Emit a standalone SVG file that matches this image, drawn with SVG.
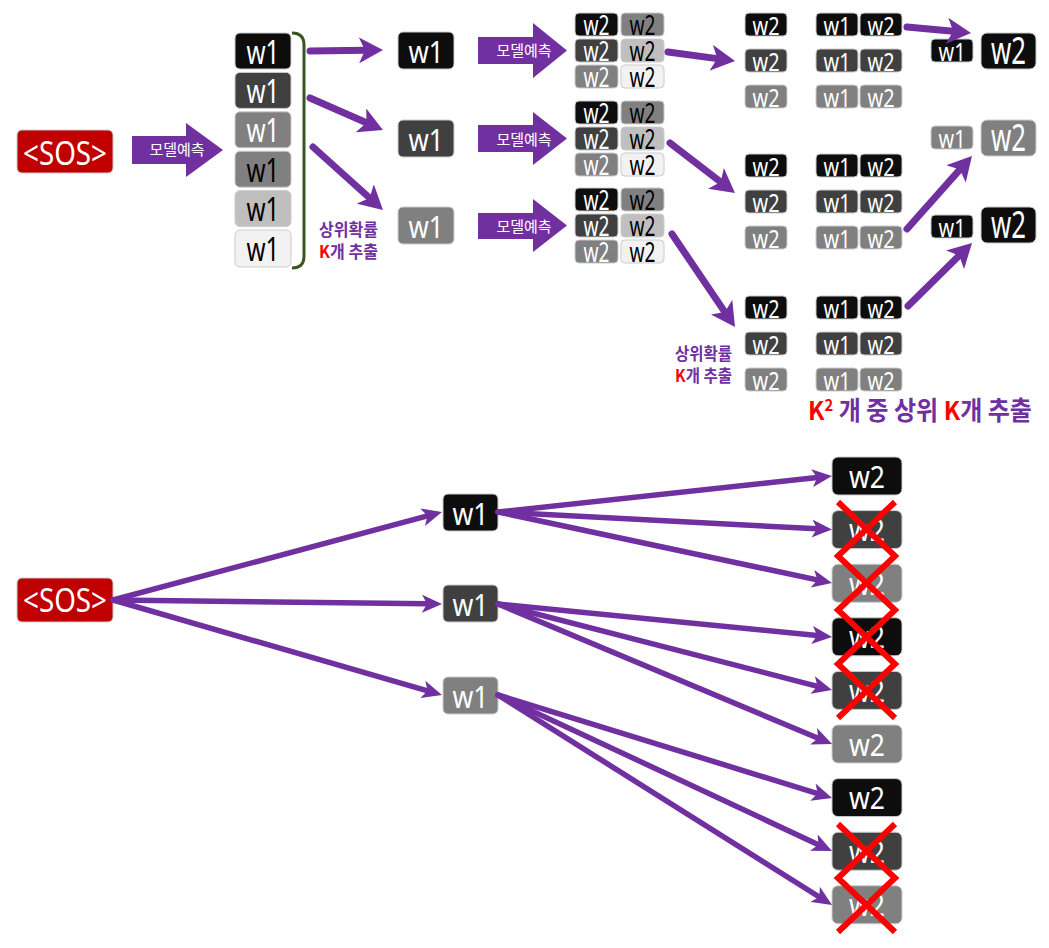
<svg xmlns="http://www.w3.org/2000/svg" width="1049" height="948" viewBox="0 0 1049 948">
<style>
.n rect{stroke:#cccccc;stroke-width:1}
.c0{fill:#0D0D0D}.c1{fill:#404040}.c2{fill:#808080}.c3{fill:#BFBFBF}.c4{fill:#F2F2F2}.red{fill:#C00000;stroke:#d04040}
.t{font-family:"Noto Sans","DejaVu Sans",sans-serif;text-anchor:middle}
.w{fill:#fff}.k{fill:#000}
.kr{font-family:"Noto Sans CJK KR",sans-serif;text-anchor:middle}
.lbl{fill:#7030A0;font-weight:bold}
.conn path{fill:none;stroke:#7030A0;stroke-linecap:round}
.thick{stroke-width:7}.thin{stroke-width:5.5}
.blk{fill:#7030A0}
.x{fill:none;stroke:#FF0000;stroke-width:6}
</style>
<defs>
<marker id="ah" viewBox="0 0 24 26" refX="6" refY="13" markerWidth="24" markerHeight="26" markerUnits="userSpaceOnUse" orient="auto"><path d="M0,0 L24,13 L0,26 L6,13 z" fill="#7030A0"/></marker>
<marker id="as" viewBox="0 0 20 18" refX="5" refY="9" markerWidth="20" markerHeight="18" markerUnits="userSpaceOnUse" orient="auto"><path d="M0,0 L20,9 L0,18 L5,9 z" fill="#7030A0"/></marker>
</defs>
<rect width="1049" height="948" fill="#fff"/>

<!-- TOP SECTION -->
<g id="sos-top" class="n"><rect class="red" x="17" y="130" width="96" height="43" rx="5"/><text class="t w" x="65" y="165" font-size="32" textLength="84" lengthAdjust="spacingAndGlyphs">&lt;SOS&gt;</text></g>

<g id="pred-1"><polygon class="blk" points="132,136 186,136 186,123 223,150 186,177 186,164 132,164"/><text class="kr" x="177" y="155" font-size="15" fill="#fff">모델예측</text></g>

<g id="stack" class="n">
<rect class="c0" x="235" y="33" width="56" height="36" rx="5"/><text class="t w" x="263" y="63.5" font-size="32" textLength="33" lengthAdjust="spacingAndGlyphs">w1</text>
<rect class="c1" x="235" y="72.4" width="56" height="36" rx="5"/><text class="t w" x="263" y="102.9" font-size="32" textLength="33" lengthAdjust="spacingAndGlyphs">w1</text>
<rect class="c2" x="235" y="111.8" width="56" height="36" rx="5"/><text class="t w" x="263" y="142.3" font-size="32" textLength="33" lengthAdjust="spacingAndGlyphs">w1</text>
<rect class="c2" x="235" y="151.2" width="56" height="36" rx="5"/><text class="t k" x="263" y="181.7" font-size="32" textLength="33" lengthAdjust="spacingAndGlyphs">w1</text>
<rect class="c3" x="235" y="190.6" width="56" height="36" rx="5"/><text class="t k" x="263" y="221.1" font-size="32" textLength="33" lengthAdjust="spacingAndGlyphs">w1</text>
<rect class="c4" x="235" y="230" width="56" height="37" rx="5"/><text class="t k" x="263" y="261" font-size="32" textLength="33" lengthAdjust="spacingAndGlyphs">w1</text>
</g>
<path id="brace" d="M292,33 Q304,33 304,45 L304,256 Q304,268 292,268" fill="none" stroke="#375623" stroke-width="3"/>

<g id="label-topk-1"><text class="kr lbl" x="348.5" y="236" font-size="17" textLength="59" lengthAdjust="spacingAndGlyphs">상위확률</text><text class="kr lbl" x="348.5" y="258" font-size="17" textLength="59" lengthAdjust="spacingAndGlyphs"><tspan fill="#FF0000">K</tspan>개 추출</text></g>

<g id="w1-a" class="n"><rect class="c0" x="398" y="32" width="56" height="37" rx="5"/><text class="t w" x="426" y="63" font-size="30" textLength="35" lengthAdjust="spacingAndGlyphs">w1</text></g>
<g id="w1-b" class="n"><rect class="c1" x="398" y="120" width="56" height="37" rx="5"/><text class="t w" x="426" y="151" font-size="30" textLength="35" lengthAdjust="spacingAndGlyphs">w1</text></g>
<g id="w1-c" class="n"><rect class="c2" x="398" y="207" width="56" height="37" rx="5"/><text class="t w" x="426" y="238" font-size="30" textLength="35" lengthAdjust="spacingAndGlyphs">w1</text></g>

<g id="pred-2"><polygon class="blk" points="478,37 533,37 533,23 567,50.5 533,78 533,64 478,64"/><text class="kr" x="524" y="56" font-size="15" fill="#fff">모델예측</text></g>
<g id="pred-3"><polygon class="blk" points="478,125 533,125 533,112 567,138.5 533,165 533,152 478,152"/><text class="kr" x="524" y="145" font-size="15" fill="#fff">모델예측</text></g>
<g id="pred-4"><polygon class="blk" points="478,213 533,213 533,199 567,225.5 533,252 533,239 478,239"/><text class="kr" x="524" y="232" font-size="15" fill="#fff">모델예측</text></g>

<g id="grid-1" class="n">
<rect class="c0" x="575" y="13" width="43" height="23" rx="4"/><text class="t w" x="596.5" y="34.5" font-size="27" textLength="26" lengthAdjust="spacingAndGlyphs">w2</text>
<rect class="c2" x="621" y="13" width="43" height="23" rx="4"/><text class="t k" x="642.5" y="34.5" font-size="27" textLength="26" lengthAdjust="spacingAndGlyphs">w2</text>
<rect class="c1" x="575" y="39" width="43" height="23" rx="4"/><text class="t w" x="596.5" y="60.5" font-size="27" textLength="26" lengthAdjust="spacingAndGlyphs">w2</text>
<rect class="c3" x="621" y="39" width="43" height="23" rx="4"/><text class="t k" x="642.5" y="60.5" font-size="27" textLength="26" lengthAdjust="spacingAndGlyphs">w2</text>
<rect class="c2" x="575" y="65" width="43" height="23" rx="4"/><text class="t w" x="596.5" y="86.5" font-size="27" textLength="26" lengthAdjust="spacingAndGlyphs">w2</text>
<rect class="c4" x="621" y="65" width="43" height="23" rx="4"/><text class="t k" x="642.5" y="86.5" font-size="27" textLength="26" lengthAdjust="spacingAndGlyphs">w2</text>
</g>
<g id="grid-2" class="n">
<rect class="c0" x="575" y="101" width="43" height="23" rx="4"/><text class="t w" x="596.5" y="122.5" font-size="27" textLength="26" lengthAdjust="spacingAndGlyphs">w2</text>
<rect class="c2" x="621" y="101" width="43" height="23" rx="4"/><text class="t k" x="642.5" y="122.5" font-size="27" textLength="26" lengthAdjust="spacingAndGlyphs">w2</text>
<rect class="c1" x="575" y="127" width="43" height="23" rx="4"/><text class="t w" x="596.5" y="148.5" font-size="27" textLength="26" lengthAdjust="spacingAndGlyphs">w2</text>
<rect class="c3" x="621" y="127" width="43" height="23" rx="4"/><text class="t k" x="642.5" y="148.5" font-size="27" textLength="26" lengthAdjust="spacingAndGlyphs">w2</text>
<rect class="c2" x="575" y="153" width="43" height="23" rx="4"/><text class="t w" x="596.5" y="174.5" font-size="27" textLength="26" lengthAdjust="spacingAndGlyphs">w2</text>
<rect class="c4" x="621" y="153" width="43" height="23" rx="4"/><text class="t k" x="642.5" y="174.5" font-size="27" textLength="26" lengthAdjust="spacingAndGlyphs">w2</text>
</g>
<g id="grid-3" class="n">
<rect class="c0" x="575" y="188" width="43" height="23" rx="4"/><text class="t w" x="596.5" y="209.5" font-size="27" textLength="26" lengthAdjust="spacingAndGlyphs">w2</text>
<rect class="c2" x="621" y="188" width="43" height="23" rx="4"/><text class="t k" x="642.5" y="209.5" font-size="27" textLength="26" lengthAdjust="spacingAndGlyphs">w2</text>
<rect class="c1" x="575" y="214" width="43" height="23" rx="4"/><text class="t w" x="596.5" y="235.5" font-size="27" textLength="26" lengthAdjust="spacingAndGlyphs">w2</text>
<rect class="c3" x="621" y="214" width="43" height="23" rx="4"/><text class="t k" x="642.5" y="235.5" font-size="27" textLength="26" lengthAdjust="spacingAndGlyphs">w2</text>
<rect class="c2" x="575" y="240" width="43" height="23" rx="4"/><text class="t w" x="596.5" y="261.5" font-size="27" textLength="26" lengthAdjust="spacingAndGlyphs">w2</text>
<rect class="c4" x="621" y="240" width="43" height="23" rx="4"/><text class="t k" x="642.5" y="261.5" font-size="27" textLength="26" lengthAdjust="spacingAndGlyphs">w2</text>
</g>

<!-- right columns: singles and pairs -->
<g id="cand-1" class="n">
<rect class="c0" x="745" y="13" width="42" height="23" rx="4"/><text class="t w" x="766" y="34.5" font-size="26" textLength="27" lengthAdjust="spacingAndGlyphs">w2</text>
<rect class="c1" x="745" y="49" width="42" height="23" rx="4"/><text class="t w" x="766" y="70.5" font-size="26" textLength="27" lengthAdjust="spacingAndGlyphs">w2</text>
<rect class="c2" x="745" y="85" width="42" height="23" rx="4"/><text class="t w" x="766" y="106.5" font-size="26" textLength="27" lengthAdjust="spacingAndGlyphs">w2</text>
</g>
<g id="cand-2" class="n">
<rect class="c0" x="745" y="154" width="42" height="23" rx="4"/><text class="t w" x="766" y="175.5" font-size="26" textLength="27" lengthAdjust="spacingAndGlyphs">w2</text>
<rect class="c1" x="745" y="190" width="42" height="23" rx="4"/><text class="t w" x="766" y="211.5" font-size="26" textLength="27" lengthAdjust="spacingAndGlyphs">w2</text>
<rect class="c2" x="745" y="226" width="42" height="23" rx="4"/><text class="t w" x="766" y="247.5" font-size="26" textLength="27" lengthAdjust="spacingAndGlyphs">w2</text>
</g>
<g id="cand-3" class="n">
<rect class="c0" x="745" y="296" width="42" height="23" rx="4"/><text class="t w" x="766" y="317.5" font-size="26" textLength="27" lengthAdjust="spacingAndGlyphs">w2</text>
<rect class="c1" x="745" y="332" width="42" height="23" rx="4"/><text class="t w" x="766" y="353.5" font-size="26" textLength="27" lengthAdjust="spacingAndGlyphs">w2</text>
<rect class="c2" x="745" y="368" width="42" height="23" rx="4"/><text class="t w" x="766" y="389.5" font-size="26" textLength="27" lengthAdjust="spacingAndGlyphs">w2</text>
</g>

<g id="pairs-1" class="n">
<rect class="c0" x="816" y="13" width="42" height="23" rx="4"/><text class="t w" x="837" y="34.5" font-size="26" textLength="27" lengthAdjust="spacingAndGlyphs">w1</text>
<rect class="c0" x="860" y="13" width="42" height="23" rx="4"/><text class="t w" x="881" y="34.5" font-size="26" textLength="27" lengthAdjust="spacingAndGlyphs">w2</text>
<rect class="c1" x="816" y="49" width="42" height="23" rx="4"/><text class="t w" x="837" y="70.5" font-size="26" textLength="27" lengthAdjust="spacingAndGlyphs">w1</text>
<rect class="c1" x="860" y="49" width="42" height="23" rx="4"/><text class="t w" x="881" y="70.5" font-size="26" textLength="27" lengthAdjust="spacingAndGlyphs">w2</text>
<rect class="c2" x="816" y="85" width="42" height="23" rx="4"/><text class="t w" x="837" y="106.5" font-size="26" textLength="27" lengthAdjust="spacingAndGlyphs">w1</text>
<rect class="c2" x="860" y="85" width="42" height="23" rx="4"/><text class="t w" x="881" y="106.5" font-size="26" textLength="27" lengthAdjust="spacingAndGlyphs">w2</text>
</g>
<g id="pairs-2" class="n">
<rect class="c0" x="816" y="154" width="42" height="23" rx="4"/><text class="t w" x="837" y="175.5" font-size="26" textLength="27" lengthAdjust="spacingAndGlyphs">w1</text>
<rect class="c0" x="860" y="154" width="42" height="23" rx="4"/><text class="t w" x="881" y="175.5" font-size="26" textLength="27" lengthAdjust="spacingAndGlyphs">w2</text>
<rect class="c1" x="816" y="190" width="42" height="23" rx="4"/><text class="t w" x="837" y="211.5" font-size="26" textLength="27" lengthAdjust="spacingAndGlyphs">w1</text>
<rect class="c1" x="860" y="190" width="42" height="23" rx="4"/><text class="t w" x="881" y="211.5" font-size="26" textLength="27" lengthAdjust="spacingAndGlyphs">w2</text>
<rect class="c2" x="816" y="226" width="42" height="23" rx="4"/><text class="t w" x="837" y="247.5" font-size="26" textLength="27" lengthAdjust="spacingAndGlyphs">w1</text>
<rect class="c2" x="860" y="226" width="42" height="23" rx="4"/><text class="t w" x="881" y="247.5" font-size="26" textLength="27" lengthAdjust="spacingAndGlyphs">w2</text>
</g>
<g id="pairs-3" class="n">
<rect class="c0" x="816" y="296" width="42" height="23" rx="4"/><text class="t w" x="837" y="317.5" font-size="26" textLength="27" lengthAdjust="spacingAndGlyphs">w1</text>
<rect class="c0" x="860" y="296" width="42" height="23" rx="4"/><text class="t w" x="881" y="317.5" font-size="26" textLength="27" lengthAdjust="spacingAndGlyphs">w2</text>
<rect class="c1" x="816" y="332" width="42" height="23" rx="4"/><text class="t w" x="837" y="353.5" font-size="26" textLength="27" lengthAdjust="spacingAndGlyphs">w1</text>
<rect class="c1" x="860" y="332" width="42" height="23" rx="4"/><text class="t w" x="881" y="353.5" font-size="26" textLength="27" lengthAdjust="spacingAndGlyphs">w2</text>
<rect class="c2" x="816" y="368" width="42" height="23" rx="4"/><text class="t w" x="837" y="389.5" font-size="26" textLength="27" lengthAdjust="spacingAndGlyphs">w1</text>
<rect class="c2" x="860" y="368" width="42" height="23" rx="4"/><text class="t w" x="881" y="389.5" font-size="26" textLength="27" lengthAdjust="spacingAndGlyphs">w2</text>
</g>

<g id="result-1" class="n">
<rect class="c0" x="931" y="39" width="42" height="23" rx="4"/><text class="t w" x="952" y="60.5" font-size="26" textLength="27" lengthAdjust="spacingAndGlyphs">w1</text>
<rect class="c0" x="981" y="33" width="55" height="36" rx="6"/><text class="t w" x="1008.5" y="64" font-size="38" textLength="35" lengthAdjust="spacingAndGlyphs">w2</text>
</g>
<g id="result-2" class="n">
<rect class="c2" x="931" y="126" width="42" height="23" rx="4"/><text class="t w" x="952" y="147.5" font-size="26" textLength="27" lengthAdjust="spacingAndGlyphs">w1</text>
<rect class="c2" x="981" y="120" width="55" height="36" rx="6"/><text class="t w" x="1008.5" y="151" font-size="38" textLength="35" lengthAdjust="spacingAndGlyphs">w2</text>
</g>
<g id="result-3" class="n">
<rect class="c0" x="931" y="215" width="42" height="23" rx="4"/><text class="t w" x="952" y="236.5" font-size="26" textLength="27" lengthAdjust="spacingAndGlyphs">w1</text>
<rect class="c0" x="981" y="207" width="55" height="36" rx="6"/><text class="t w" x="1008.5" y="238" font-size="38" textLength="35" lengthAdjust="spacingAndGlyphs">w2</text>
</g>

<g id="label-topk-2"><text class="kr lbl" x="703.5" y="360" font-size="17" textLength="57" lengthAdjust="spacingAndGlyphs">상위확률</text><text class="kr lbl" x="703.5" y="382" font-size="17" textLength="57" lengthAdjust="spacingAndGlyphs"><tspan fill="#FF0000">K</tspan>개 추출</text></g>

<g id="label-k2"><text class="kr lbl" x="920" y="420" font-size="26" textLength="224" lengthAdjust="spacingAndGlyphs"><tspan fill="#FF0000">K</tspan><tspan fill="#FF0000" font-size="16" dy="-9">2</tspan><tspan dy="9"> 개 중 상위 </tspan><tspan fill="#FF0000">K</tspan>개 추출</text></g>

<!-- BOTTOM SECTION -->
<g id="sos-bottom" class="n"><rect class="red" x="17" y="578" width="96" height="44" rx="5"/><text class="t w" x="65" y="612" font-size="33" textLength="84" lengthAdjust="spacingAndGlyphs">&lt;SOS&gt;</text></g>

<g id="b-w1-a" class="n"><rect class="c0" x="443" y="494" width="55" height="37" rx="5"/><text class="t w" x="470.5" y="525" font-size="30" textLength="36" lengthAdjust="spacingAndGlyphs">w1</text></g>
<g id="b-w1-b" class="n"><rect class="c1" x="443" y="585" width="55" height="37" rx="5"/><text class="t w" x="470.5" y="616" font-size="30" textLength="36" lengthAdjust="spacingAndGlyphs">w1</text></g>
<g id="b-w1-c" class="n"><rect class="c2" x="443" y="677" width="55" height="37" rx="5"/><text class="t w" x="470.5" y="708" font-size="30" textLength="36" lengthAdjust="spacingAndGlyphs">w1</text></g>

<g id="b-w2-1" class="n"><rect class="c0" x="832" y="457" width="70" height="38" rx="6"/><text class="t w" x="867" y="487.5" font-size="30" textLength="36" lengthAdjust="spacingAndGlyphs">w2</text></g>
<g id="b-w2-2" class="n"><rect class="c1" x="832" y="510.6" width="70" height="38" rx="6"/><text class="t w" x="867" y="541.1" font-size="30" textLength="36" lengthAdjust="spacingAndGlyphs">w2</text></g>
<g id="b-w2-3" class="n"><rect class="c2" x="832" y="564.2" width="70" height="38" rx="6"/><text class="t w" x="867" y="594.7" font-size="30" textLength="36" lengthAdjust="spacingAndGlyphs">w2</text></g>
<g id="b-w2-4" class="n"><rect class="c0" x="832" y="617.8" width="70" height="38" rx="6"/><text class="t w" x="867" y="648.3" font-size="30" textLength="36" lengthAdjust="spacingAndGlyphs">w2</text></g>
<g id="b-w2-5" class="n"><rect class="c1" x="832" y="671.4" width="70" height="38" rx="6"/><text class="t w" x="867" y="701.9" font-size="30" textLength="36" lengthAdjust="spacingAndGlyphs">w2</text></g>
<g id="b-w2-6" class="n"><rect class="c2" x="832" y="725" width="70" height="38" rx="6"/><text class="t w" x="867" y="755.5" font-size="30" textLength="36" lengthAdjust="spacingAndGlyphs">w2</text></g>
<g id="b-w2-7" class="n"><rect class="c0" x="832" y="778.6" width="70" height="38" rx="6"/><text class="t w" x="867" y="809.1" font-size="30" textLength="36" lengthAdjust="spacingAndGlyphs">w2</text></g>
<g id="b-w2-8" class="n"><rect class="c1" x="832" y="832.2" width="70" height="38" rx="6"/><text class="t w" x="867" y="862.7" font-size="30" textLength="36" lengthAdjust="spacingAndGlyphs">w2</text></g>
<g id="b-w2-9" class="n"><rect class="c2" x="832" y="885.8" width="70" height="38" rx="6"/><text class="t w" x="867" y="916.3" font-size="30" textLength="36" lengthAdjust="spacingAndGlyphs">w2</text></g>

<g id="connectors" class="conn">
<path class="thick" d="M310,51 L365,50.2" marker-end="url(#ah)"/>
<path class="thick" d="M310,98 L366.5,122.8" marker-end="url(#ah)"/>
<path class="thick" d="M313,147 L369.6,198" marker-end="url(#ah)"/>
<path class="thick" d="M668,52 L717.2,58.6" marker-end="url(#ah)"/>
<path class="thick" d="M670,143 L720.7,182" marker-end="url(#ah)"/>
<path class="thick" d="M672,234 L724.9,312.1" marker-end="url(#ah)"/>
<path class="thick" d="M907,27 L953.1,31.3" marker-end="url(#ah)"/>
<path class="thick" d="M907,229 L960,169.4" marker-end="url(#ah)"/>
<path class="thick" d="M908,306 L959.2,255.6" marker-end="url(#ah)"/>

<path class="thin" d="M113,600 L427.5,515.9" marker-end="url(#as)"/>
<path class="thin" d="M113,600 L427,603.8" marker-end="url(#as)"/>
<path class="thin" d="M113,600 L427.6,690.8" marker-end="url(#as)"/>
<path class="thin" d="M498,512 L817.1,477.6" marker-end="url(#as)"/>
<path class="thin" d="M498,512 L817,528.8" marker-end="url(#as)"/>
<path class="thin" d="M498,512 L817.3,579.9" marker-end="url(#as)"/>
<path class="thin" d="M498,604 L817.1,635.5" marker-end="url(#as)"/>
<path class="thin" d="M498,604 L817.5,686.3" marker-end="url(#as)"/>
<path class="thin" d="M498,604 L818.2,738.2" marker-end="url(#as)"/>
<path class="thin" d="M498,695 L817.7,793.6" marker-end="url(#as)"/>
<path class="thin" d="M498,695 L818.4,844.7" marker-end="url(#as)"/>
<path class="thin" d="M498,695 L819.3,897" marker-end="url(#as)"/>
</g>

<g id="cross-marks">
<path class="x" d="M838,502 L895,556 L838,610 L895,664 L838,718"/>
<path class="x" d="M895,502 L838,556 L895,610 L838,664 L895,718"/>
<path class="x" d="M838,824 L895,878 L838,932"/>
<path class="x" d="M895,824 L838,878 L895,932"/>
</g>
</svg>
